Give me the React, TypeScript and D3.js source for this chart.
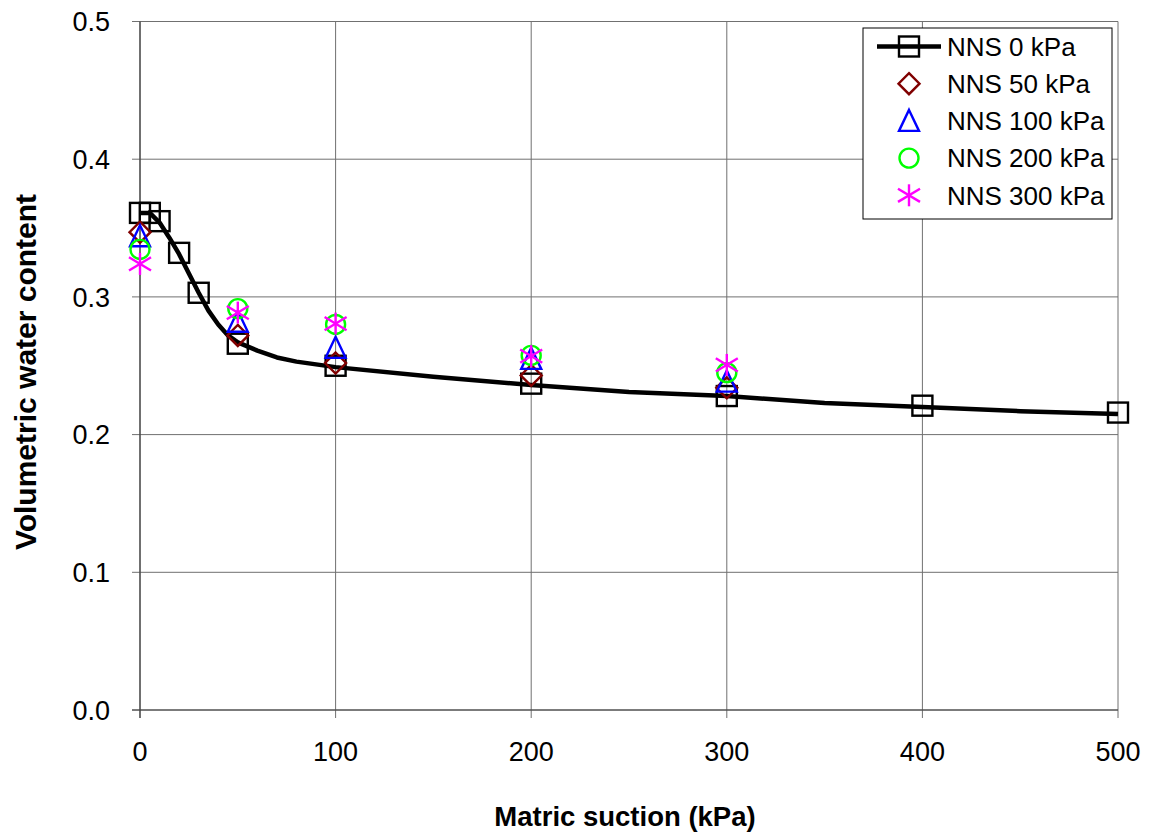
import React from "react";
import * as d3 from "d3";

const xTicks = [0, 100, 200, 300, 400, 500];
const yTicks = [0, 0.1, 0.2, 0.3, 0.4, 0.5];
const yTickLabels = ["0.0", "0.1", "0.2", "0.3", "0.4", "0.5"];

// NNS 0 kPa measured points (squares)
const s0x = [0, 5, 10, 20, 30, 50, 100, 200, 300, 400, 500];
const s0y = [0.361, 0.361, 0.355, 0.332, 0.303, 0.266, 0.250, 0.237, 0.228, 0.221, 0.216];
// NNS 0 kPa fitted curve
const fitX = [0, 5, 10, 15, 20, 25, 30, 35, 40, 45, 50, 60, 70, 80, 100, 150, 200, 250, 300, 350, 400, 450, 500];
const fitY = [0.361, 0.361, 0.354, 0.343, 0.331, 0.317, 0.303, 0.290, 0.280, 0.272, 0.267, 0.261, 0.256, 0.253, 0.249, 0.242, 0.236, 0.231, 0.228, 0.223, 0.220, 0.217, 0.215];

const sx = [0, 50, 100, 200, 300];
const s50y = [0.347, 0.272, 0.252, 0.243, 0.234];
const s100y = [0.344, 0.282, 0.263, 0.255, 0.2385];
const s200y = [0.3345, 0.2915, 0.280, 0.2575, 0.245];
const s300y = [0.324, 0.2886, 0.2806, 0.257, 0.2506];

const legendLabels = ["NNS 0 kPa", "NNS 50 kPa", "NNS 100 kPa", "NNS 200 kPa", "NNS 300 kPa"];

const FONT = "Liberation Sans, Arial, sans-serif";

type MarkerKind = "square" | "diamond" | "triangle" | "circle" | "star";

function Marker({ kind, cx, cy }: { kind: MarkerKind; cx: number; cy: number }) {
  const sw = 2.4;
  if (kind === "square") {
    return <rect x={cx - 10} y={cy - 10} width={20} height={20} fill="none" stroke="#000" strokeWidth={sw} />;
  }
  if (kind === "diamond") {
    const r = 10.5;
    return (
      <path
        d={`M${cx},${cy - r}L${cx + r},${cy}L${cx},${cy + r}L${cx - r},${cy}Z`}
        fill="none"
        stroke="#800000"
        strokeWidth={sw}
      />
    );
  }
  if (kind === "triangle") {
    return (
      <path
        d={`M${cx},${cy - 11}L${cx + 10},${cy + 10}L${cx - 10},${cy + 10}Z`}
        fill="none"
        stroke="#0000FF"
        strokeWidth={sw}
      />
    );
  }
  if (kind === "circle") {
    return <circle cx={cx} cy={cy} r={9.5} fill="none" stroke="#00FF00" strokeWidth={sw} />;
  }
  const r = 11;
  return (
    <g stroke="#FF00FF" strokeWidth={sw}>
      <line x1={cx} y1={cy - r} x2={cx} y2={cy + r} />
      <line x1={cx - r} y1={cy - r * 0.6} x2={cx + r} y2={cy + r * 0.6} />
      <line x1={cx - r} y1={cy + r * 0.6} x2={cx + r} y2={cy - r * 0.6} />
    </g>
  );
}

export default function App() {
  const W = 1162;
  const H = 837;
  const x = d3.scaleLinear().domain([0, 500]).range([140, 1118]);
  const y = d3.scaleLinear().domain([0, 0.5]).range([710, 21.5]);

  const line = d3
    .line<number>()
    .x((_, i) => x(fitX[i]))
    .y((d) => y(d));

  const scatter: { kind: MarkerKind; xs: number[]; ys: number[] }[] = [
    { kind: "square", xs: s0x, ys: s0y },
    { kind: "diamond", xs: sx, ys: s50y },
    { kind: "triangle", xs: sx, ys: s100y },
    { kind: "circle", xs: sx, ys: s200y },
    { kind: "star", xs: sx, ys: s300y },
  ];
  const kinds: MarkerKind[] = ["square", "diamond", "triangle", "circle", "star"];

  const legX = 863;
  const legY = 28;
  const rowH = 37.2;

  return (
    <svg width={W} height={H} style={{ position: "absolute", left: 0, top: 0 }} fontFamily={FONT}>
      <rect width={W} height={H} fill="#fff" />
      {/* gridlines */}
      {xTicks.map((t) => (
        <line key={"gx" + t} x1={x(t)} x2={x(t)} y1={y(0.5)} y2={y(0) + 8} stroke="#707070" strokeWidth={1} />
      ))}
      {yTicks.map((t) => (
        <line key={"gy" + t} x1={x(0) - 8} x2={x(500)} y1={y(t)} y2={y(t)} stroke="#707070" strokeWidth={1} />
      ))}
      {/* axes */}
      <line x1={x(0)} x2={x(0)} y1={y(0.5)} y2={y(0) + 8} stroke="#404040" strokeWidth={1.2} />
      <line x1={x(0) - 8} x2={x(500)} y1={y(0)} y2={y(0)} stroke="#404040" strokeWidth={1.2} />
      {/* tick labels */}
      {yTicks.map((t, i) => (
        <text key={"ly" + t} x={110} y={y(t)} dy="0.36em" textAnchor="end" fontSize={27} fill="#000">
          {yTickLabels[i]}
        </text>
      ))}
      {xTicks.map((t) => (
        <text key={"lx" + t} x={x(t)} y={761} textAnchor="middle" fontSize={27} fill="#000">
          {t}
        </text>
      ))}
      {/* axis titles */}
      <text x={625} y={826} textAnchor="middle" fontSize={27.5} fontWeight="bold" fill="#000">
        Matric suction (kPa)
      </text>
      <text
        transform={`translate(36,372) rotate(-90)`}
        textAnchor="middle"
        fontSize={30}
        fontWeight="bold"
        fill="#000"
      >
        Volumetric water content
      </text>
      {/* fitted line */}
      <path d={line(fitY) || ""} fill="none" stroke="#000" strokeWidth={4.5} strokeLinejoin="round" />
      {/* markers */}
      {scatter.map((s, si) =>
        s.xs.map((xv, i) => <Marker key={si + "-" + i} kind={s.kind} cx={x(xv)} cy={y(s.ys[i])} />)
      )}
      {/* legend */}
      <rect x={legX} y={legY} width={249} height={191} fill="#fff" stroke="#000" strokeWidth={1} />
      {legendLabels.map((lab, i) => {
        const cy = legY + 18.5 + i * rowH;
        return (
          <g key={lab}>
            {i === 0 && <line x1={877} x2={941} y1={cy} y2={cy} stroke="#000" strokeWidth={4.5} />}
            <Marker kind={kinds[i]} cx={909} cy={cy} />
            <text x={947} y={cy} dy="0.36em" fontSize={26} fill="#000">
              {lab}
            </text>
          </g>
        );
      })}
    </svg>
  );
}
